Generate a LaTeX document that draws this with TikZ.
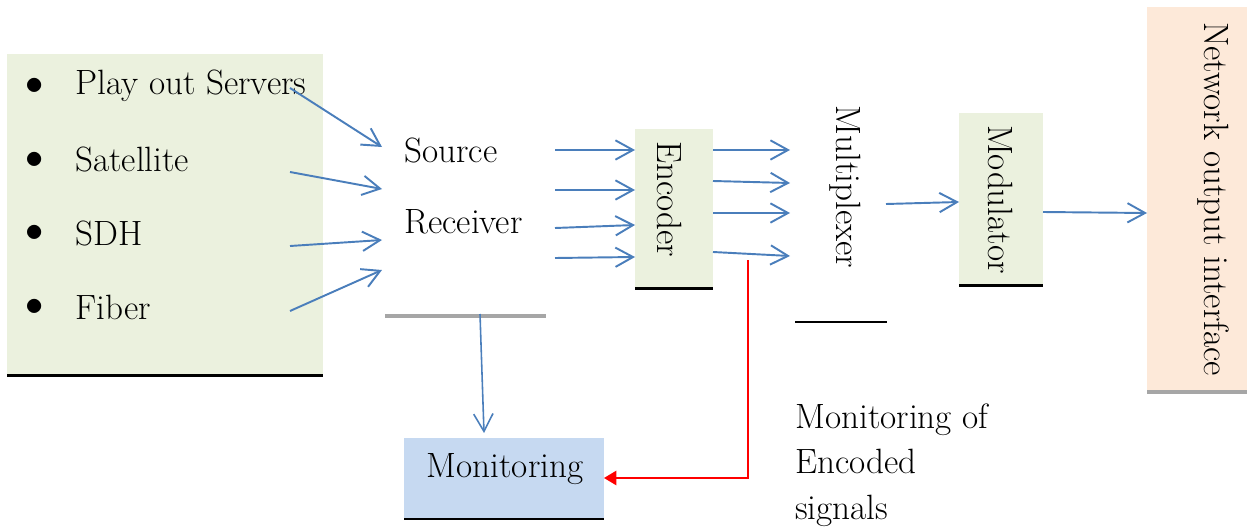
\documentclass[tikz,border=0pt]{standalone}
\usetikzlibrary{arrows.meta,positioning}

\definecolor{boxgreen}{HTML}{EBF1DE}
\definecolor{boxblue}{HTML}{C6D9F1}
\definecolor{boxpeach}{HTML}{FDE9D9}
\definecolor{flowblue}{HTML}{4A7EBB}
\definecolor{rulegray}{HTML}{A6A6A6}

\begin{document}
\begin{tikzpicture}[x=0.02cm, y=-0.02cm, font=\fontsize{20}{26}\selectfont,
    flow/.style={draw=flowblue, line width=1.1pt, -{Straight Barb[length=10pt,width=11pt]}},
    alarm/.style={draw=red, line width=1.3pt, -{Triangle[length=7pt,width=8pt]}},
    blockbox/.style={inner sep=0pt, outer sep=0pt},
    baserule/.style={line width=1.7pt},
    grayrule/.style={draw=rulegray, line width=2.8pt}]

    \useasboundingbox (0,0) rectangle (1247,527);

    % Input sources
    \node[blockbox, fill=boxgreen, minimum width=6.32cm, minimum height=6.44cm] (inputs) at (165,215) {};
    \draw[baserule] (inputs.south west) -- (inputs.south east);
    \foreach \n/\y/\txt in {1/86/Play out Servers, 2/160/Satellite, 3/233/SDH, 4/307/Fiber}{
        \node at (35,\y) {$\bullet$};
        \node[anchor=west, inner sep=0pt] (item\n) at (75,\y) {\txt};
    }

    % Source receiver
    \node[anchor=west, inner sep=0pt] (source) at (404,150) {Source};
    \node[anchor=west, inner sep=0pt] (receiver) at (404,222) {Receiver};
    \draw[grayrule] (385,316) coordinate (rxl) -- (546,316) coordinate (rxr);

    \foreach \n/\ya/\yb in {1/88/147, 2/172/189, 3/246/240, 4/311/270}{
        \coordinate (in\n) at (290,\ya);
        \coordinate (rx\n) at (382,\yb);
        \draw[flow] (in\n) -- (rx\n);
    }

    % Encoder
    \node[blockbox, fill=boxgreen, minimum width=1.56cm, minimum height=3.2cm] (enc) at (674,209) {};
    \draw[baserule] (enc.south west) -- (enc.south east);
    \node[rotate=-90] at ([xshift=-0.08cm, yshift=0.2cm]enc.center) {Encoder};
    \foreach \n/\ya/\yb in {1/150/150, 2/190/190, 3/228/225, 4/258/257}{
        \coordinate (rxo\n) at (555,\ya);
        \draw[flow] (rxo\n) -- (enc.west |- 0,\yb);
    }

    % Multiplexer
    \node[rotate=-90] (mux) at (845,187) {Multiplexer};
    \draw[line width=1.1pt] (795,322) -- (887,322);
    \foreach \n/\ya/\yb in {1/150/150, 2/181/183, 3/213/213, 4/252/256}{
        \coordinate (mx\n) at (790,\yb);
        \draw[flow] (enc.east |- 0,\ya) -- (mx\n);
    }

    % Modulator
    \node[blockbox, fill=boxgreen, minimum width=1.68cm, minimum height=3.46cm] (mod) at (1001,199.5) {};
    \draw[baserule] (mod.south west) -- (mod.south east);
    \node[rotate=-90] at (mod.center) {Modulator};
    \coordinate (muxout) at (886,204);
    \draw[flow] (muxout) -- (mod.west |- 0,202);

    % Network output interface
    \node[blockbox, fill=boxpeach, minimum width=2cm, minimum height=7.7cm] (net) at (1197,199.5) {};
    \draw[grayrule] (net.south west) -- (net.south east);
    \node[rotate=-90] at (1213,199) {Network output interface};
    \draw[flow] (mod.east |- 0,212) -- (net.west |- 0,213);

    % Monitoring
    \node[blockbox, fill=boxblue, minimum width=4cm, minimum height=1.62cm] (mon) at (504,478.5) {};
    \draw[baserule] (mon.south west) -- (mon.south east);
    \node at (505,469) {Monitoring};
    \coordinate (tap) at (480,314);
    \draw[flow, line width=0.9pt] (tap) -- (484,433);

    \coordinate (enctap) at (748,260);
    \draw[alarm] (enctap) -- (748,478) -- (mon.east |- 0,478);
    \node[anchor=west, align=left, inner sep=0pt] (monlabel) at (795,465) {Monitoring of\\Encoded\\signals};

\end{tikzpicture}
\end{document}
